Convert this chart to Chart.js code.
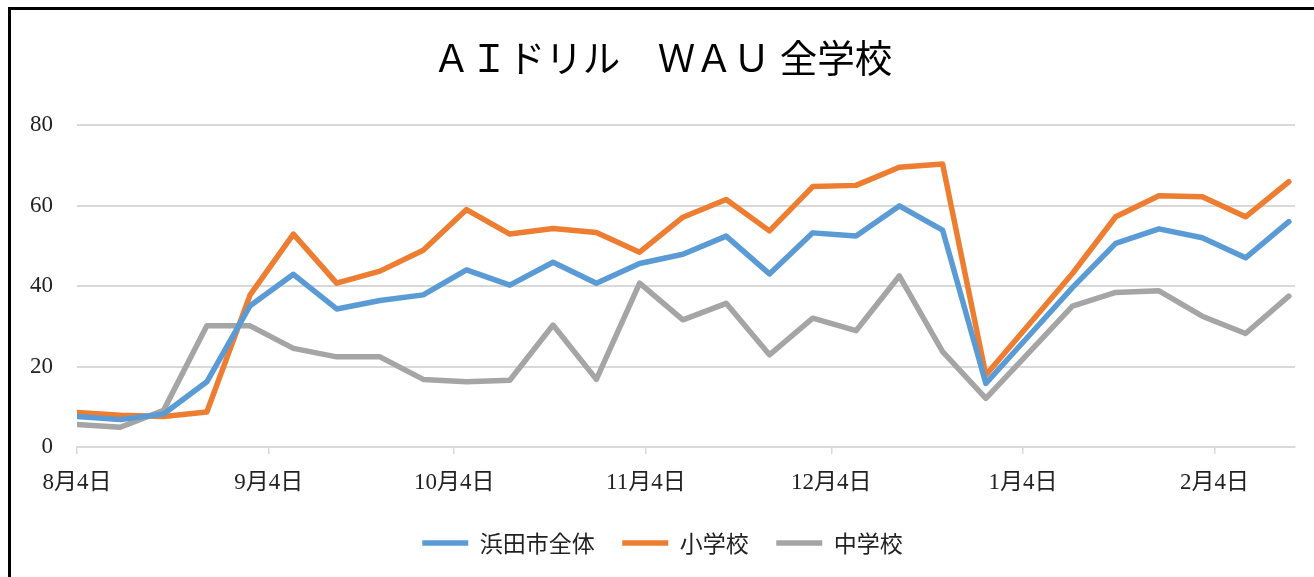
<!DOCTYPE html>
<html>
<head>
<meta charset="utf-8">
<script src="https://cdn.jsdelivr.net/npm/chart.js@4"></script>
<style>
html,body{margin:0;padding:0;background:#fff;overflow:hidden;width:1314px;height:577px}
#wrap{position:relative;width:1314px;height:577px}
#frame{position:absolute;left:8px;top:7px;width:1400px;height:700px;border-left:3px solid #000;border-top:3px solid #000;pointer-events:none}
</style>
</head>
<body>
<div id="wrap"><canvas id="c" width="1314" height="577"></canvas><div id="frame"></div></div>
<script>
const titleText = "ＡＩドリル　ＷＡＵ 全学校";
const seriesNames = ["浜田市全体", "小学校", "中学校"];
const dates = [
  "2024-08-04","2024-08-11","2024-08-18","2024-08-25","2024-09-01","2024-09-08","2024-09-15","2024-09-22","2024-09-29",
  "2024-10-06","2024-10-13","2024-10-20","2024-10-27","2024-11-03","2024-11-10","2024-11-17","2024-11-24",
  "2024-12-01","2024-12-08","2024-12-15","2024-12-22","2024-12-29","2025-01-05","2025-01-12","2025-01-19","2025-01-26",
  "2025-02-02","2025-02-09","2025-02-16"
];
const cityValues = [7.6,6.8,8.2,16.2,35.1,42.9,34.3,36.4,37.8,44.0,40.2,45.9,40.7,45.6,47.9,52.4,43.0,53.2,52.4,59.9,53.9,15.8,27.7,39.6,50.6,54.2,52.0,47.0,56.0];
const elemValues = [8.6,7.9,7.6,8.7,37.8,52.9,40.7,43.7,48.9,59.0,52.9,54.3,53.3,48.4,57.1,61.5,53.7,64.7,65.0,69.5,70.3,17.9,30.5,43.1,57.2,62.4,62.2,57.2,65.9];
const juniorValues = [5.6,4.9,9.1,30.1,30.1,24.5,22.4,22.4,16.8,16.2,16.6,30.3,16.8,40.7,31.6,35.7,22.9,32.0,28.9,42.5,23.7,12.1,23.5,35.0,38.4,38.8,32.5,28.2,37.5];
const tickDates = ["2024-08-04","2024-09-04","2024-10-04","2024-11-04","2024-12-04","2025-01-04","2025-02-04"];
const tickLabels = ["8月4日","9月4日","10月4日","11月4日","12月4日","1月4日","2月4日"];
const yTicks = [0,20,40,60,80];

const base = Date.parse(dates[0]);
const dayOf = s => Math.round((Date.parse(s) - base) / 86400000);
const tickDays = tickDates.map(dayOf);
const pts = vals => dates.map((d, i) => ({x: dayOf(d), y: vals[i]}));

const FONT = "'Liberation Serif','Noto Sans CJK JP',serif";
const colors = ["#5B9BD5", "#ED7D31", "#A5A5A5"];
const mk = (label, vals, color) => ({
  label, data: pts(vals), borderColor: color, backgroundColor: color,
  borderWidth: 5.5, pointRadius: 0, pointHoverRadius: 0, tension: 0,
  borderCapStyle: 'round', borderJoinStyle: 'round', fill: false
});

new Chart(document.getElementById('c'), {
  type: 'line',
  data: {
    datasets: [
      mk(seriesNames[0], cityValues, colors[0]),
      mk(seriesNames[1], elemValues, colors[1]),
      mk(seriesNames[2], juniorValues, colors[2])
    ]
  },
  options: {
    responsive: false,
    animation: false,
    devicePixelRatio: 1,
    layout: {padding: {left: 30, right: 19, top: 0, bottom: 12.5}},
    plugins: {
      tooltip: {enabled: false},
      title: {
        display: true, text: titleText, color: '#000',
        font: {family: FONT, size: 37.5, weight: 'normal'},
        padding: {top: 40, bottom: 40}
      },
      legend: {
        display: true, position: 'bottom',
        labels: {
          usePointStyle: true, pointStyle: 'line', pointStyleWidth: 46,
          padding: 27.5, color: '#222',
          font: {family: "'Noto Sans CJK JP',sans-serif", size: 23}
        }
      }
    },
    scales: {
      x: {
        type: 'linear', min: 0, max: 197,
        afterBuildTicks: s => { s.ticks = tickDays.map(v => ({value: v})); },
        afterFit: s => { s.height = 57; },
        ticks: {
          autoSkip: false, maxRotation: 0, padding: 15, color: '#222',
          font: {family: FONT, size: 23},
          callback: (v, i) => tickLabels[i]
        },
        grid: {drawOnChartArea: false, drawTicks: true, tickLength: 7, color: '#d9d9d9', lineWidth: 1.5},
        border: {display: true, color: '#d9d9d9', width: 2}
      },
      y: {
        min: 0, max: 80,
        afterBuildTicks: s => { s.ticks = yTicks.map(v => ({value: v})); },
        afterFit: s => { s.width = 47; },
        ticks: {padding: 24, color: '#222', font: {family: FONT, size: 23}},
        grid: {drawTicks: false, color: '#d9d9d9', lineWidth: 2},
        border: {display: false}
      }
    }
  }
});
</script>
</body>
</html>
